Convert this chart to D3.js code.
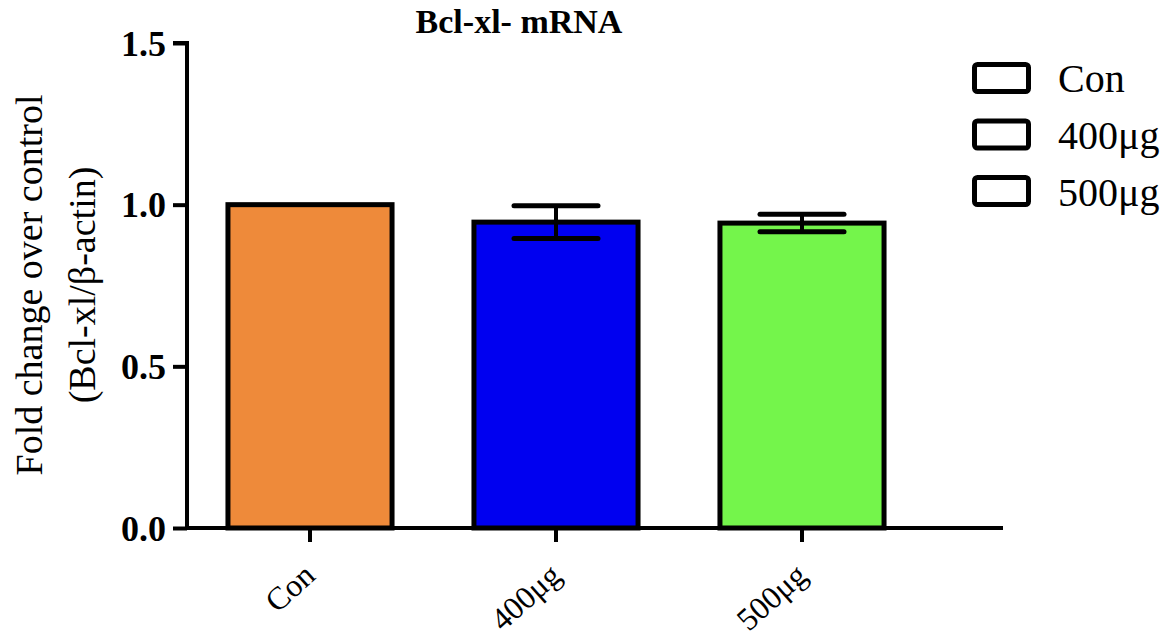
<!DOCTYPE html>
<html><head><meta charset="utf-8">
<script src="https://cdn.jsdelivr.net/npm/d3@7"></script>
<style>body{margin:0;background:#fff}</style>
</head><body>
<svg id="c" width="1173" height="641"></svg>
<script>
const categories = ["Con", "400\u03bcg", "500\u03bcg"];
const values = [1.0, 0.946, 0.943];
const errors = [0, 0.051, 0.027];
const colors = ["#EE8A3A", "#0000F0", "#74F54B"];
const yTicks = [0.0, 0.5, 1.0, 1.5];

const svg = d3.select("#c");
const font = "'Liberation Serif','Times New Roman',serif";
const x0 = 187, yBottom = 528, yTop = 43;
const y = d3.scaleLinear().domain([0, 1.5]).range([yBottom, yTop]);
const x = d3.scaleBand().domain(categories).range([x0, x0 + 246 * 3]).paddingInner(0.333).paddingOuter(0.1665);

// bars
svg.selectAll("rect.bar").data(categories).enter().append("rect")
  .attr("x", d => x(d)).attr("width", x.bandwidth())
  .attr("y", (d, i) => y(values[i])).attr("height", (d, i) => y(0) - y(values[i]))
  .attr("fill", (d, i) => colors[i]).attr("stroke", "#000").attr("stroke-width", 5);

// error bars
const eb = svg.selectAll("g.err").data(categories).enter().append("g")
  .attr("transform", d => `translate(${x(d) + x.bandwidth() / 2},0)`);
eb.filter((d, i) => errors[i] > 0).each(function (d) {
  const i = categories.indexOf(d);
  const g = d3.select(this);
  const hi = y(values[i] + errors[i]), lo = y(values[i] - errors[i]);
  g.append("line").attr("x1", 0).attr("x2", 0).attr("y1", hi).attr("y2", lo).attr("stroke", "#000").attr("stroke-width", 4);
  [hi, lo].forEach(v => g.append("line").attr("x1", -42).attr("x2", 42).attr("y1", v).attr("y2", v)
    .attr("stroke", "#000").attr("stroke-width", 5).attr("stroke-linecap", "round"));
});

// y axis
const yAxis = svg.append("g").attr("transform", `translate(${x0},0)`)
  .call(d3.axisLeft(y).tickValues(yTicks).tickFormat(d3.format(".1f")).tickSize(14).tickPadding(7));
yAxis.select(".domain").attr("d", `M-14,${yTop}H0V${yBottom}`).attr("stroke-width", 4);
yAxis.selectAll(".tick line").attr("stroke-width", 4);
yAxis.selectAll(".tick text").attr("font-family", font).attr("font-size", 36).attr("font-weight", "bold").attr("fill", "#000").attr("dy", "0.34em");

// x axis
const xAxis = svg.append("g").attr("transform", `translate(0,${yBottom})`)
  .call(d3.axisBottom(x).tickSize(14).tickPadding(6));
xAxis.select(".domain").attr("d", `M${x0 - 2},0H1003`).attr("stroke-width", 4);
xAxis.selectAll(".tick line").attr("stroke-width", 4);
xAxis.selectAll(".tick text").attr("font-family", font).attr("font-size", 32).attr("fill", "#000")
  .attr("text-anchor", "end").attr("dy", 0).attr("y", 0)
  .attr("transform", "translate(7,50) rotate(-42)");

// title
svg.append("text").attr("x", 519).attr("y", 33).attr("text-anchor", "middle")
  .attr("font-family", font).attr("font-size", 34).attr("font-weight", "bold").text("Bcl-xl- mRNA");

// y label
const yl = svg.append("text").attr("transform", "translate(0,285) rotate(-90)")
  .attr("text-anchor", "middle").attr("font-family", font).attr("font-size", 38);
yl.append("tspan").attr("x", 0).attr("y", 42).text("Fold change over control");
yl.append("tspan").attr("x", 0).attr("y", 95).text("(Bcl-xl/\u03b2-actin)");

// legend
const lg = svg.selectAll("g.lg").data(categories).enter().append("g");
lg.append("rect").attr("x", 974.5).attr("y", (d, i) => 64.5 + i * 56.5).attr("width", 54).attr("height", 27).attr("rx", 3)
  .attr("fill", "#fff").attr("stroke", "#000").attr("stroke-width", 5);
lg.append("text").attr("x", 1058).attr("y", (d, i) => 92 + i * 57)
  .attr("font-family", font).attr("font-size", 40).text(d => d);
</script>
</body></html>
